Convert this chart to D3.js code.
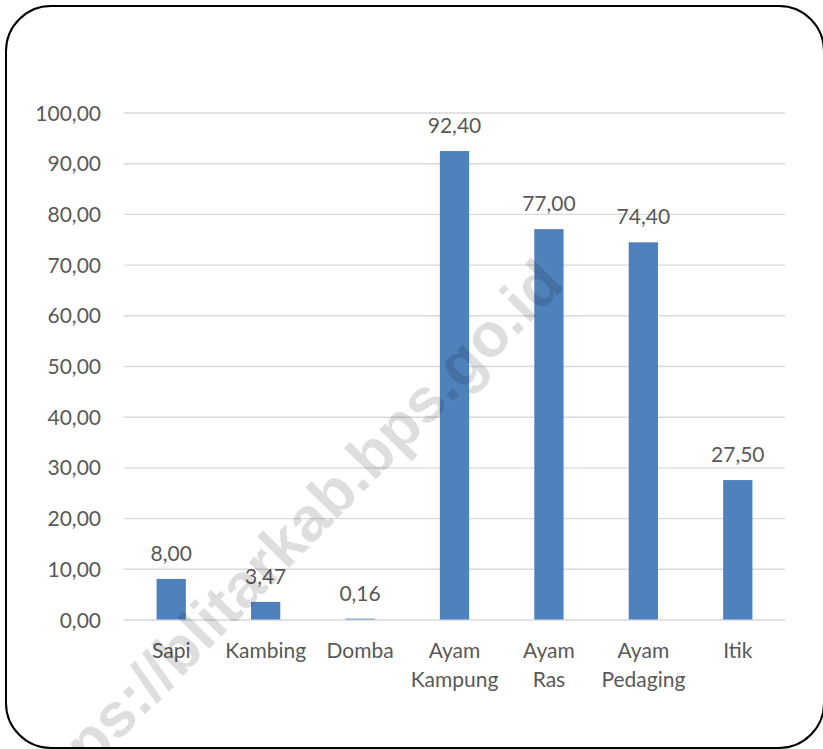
<!DOCTYPE html>
<html>
<head>
<meta charset="utf-8">
<script src="https://cdn.jsdelivr.net/npm/d3@7"></script>
<style>
  html, body { margin: 0; padding: 0; background: #fff; }
  svg { display: block; }
</style>
</head>
<body>
<svg id="chart" width="823" height="749"></svg>
<script>
const categories = ["Sapi", "Kambing", "Domba", "Ayam Kampung", "Ayam Ras", "Ayam Pedaging", "Itik"];
const values = [8.00, 3.47, 0.16, 92.40, 77.00, 74.40, 27.50];
const yTicks = [0, 10, 20, 30, 40, 50, 60, 70, 80, 90, 100];
const watermark = "https://blitarkab.bps.go.id";

(function () {
const svg = d3.select("#chart");
const font = "Lato, 'Open Sans', sans-serif";
const textColor = "#595959";
const fmt = v => d3.format(".2f")(v).replace(".", ",");

const plotLeft = 124, plotRight = 785, plotTop = 112.5, plotBottom = 619.5;
const x = d3.scaleBand().domain(categories).range([plotLeft, plotRight]).padding(0);
const y = d3.scaleLinear().domain([0, 100]).range([plotBottom, plotTop]);

svg.append("rect").attr("x", 0).attr("y", 0).attr("width", 823).attr("height", 749).attr("fill", "#fff");

// y axis with gridlines
const yAxis = svg.append("g")
  .attr("transform", `translate(${plotLeft},0)`)
  .call(d3.axisLeft(y).tickValues(yTicks).tickSize(-(plotRight - plotLeft)).tickPadding(23).tickFormat(fmt));
yAxis.select(".domain").remove();
yAxis.selectAll(".tick line").attr("stroke", "#D9D9D9").attr("stroke-width", 1.4);
yAxis.selectAll(".tick text")
  .attr("fill", textColor).attr("font-family", font).attr("font-size", 21)
  .attr("dy", "0.36em");

// bars
const barW = x.bandwidth() * 0.31;
svg.append("g").selectAll("rect").data(values).join("rect")
  .attr("x", (d, i) => x(categories[i]) + x.bandwidth() / 2 - barW / 2)
  .attr("y", d => y(d))
  .attr("width", barW)
  .attr("height", d => y(0) - y(d))
  .attr("fill", "#4F81BD");

// value labels
svg.append("g").selectAll("text").data(values).join("text")
  .attr("x", (d, i) => x(categories[i]) + x.bandwidth() / 2)
  .attr("y", d => y(d) - 18)
  .attr("text-anchor", "middle")
  .attr("fill", textColor).attr("font-family", font).attr("font-size", 21)
  .text(d => fmt(d));

// x axis
const xAxis = svg.append("g")
  .attr("transform", `translate(0,${plotBottom})`)
  .call(d3.axisBottom(x).tickSize(0).tickPadding(0));
xAxis.select(".domain").remove();
xAxis.selectAll(".tick text").each(function(d) {
  const t = d3.select(this);
  t.text(null).attr("dy", null).attr("y", 0)
    .attr("fill", textColor).attr("font-family", font).attr("font-size", 21);
  d.split(" ").forEach((w, i) => {
    t.append("tspan").attr("x", 0).attr("y", 38.5 + i * 29).text(w);
  });
});

// watermark
svg.append("text")
  .attr("transform", "translate(566,286) rotate(-45.5)")
  .attr("text-anchor", "end")
  .attr("font-family", "'Liberation Sans', Arial, sans-serif")
  .attr("font-weight", "bold")
  .attr("font-size", 62)
  .attr("fill", "#000")
  .attr("fill-opacity", 0.13)
  .text(watermark);

// border
svg.append("rect")
  .attr("x", 6).attr("y", 6).attr("width", 818).attr("height", 742)
  .attr("rx", 45).attr("ry", 45)
  .attr("fill", "none").attr("stroke", "#000").attr("stroke-width", 2);
})();
</script>
</body>
</html>
